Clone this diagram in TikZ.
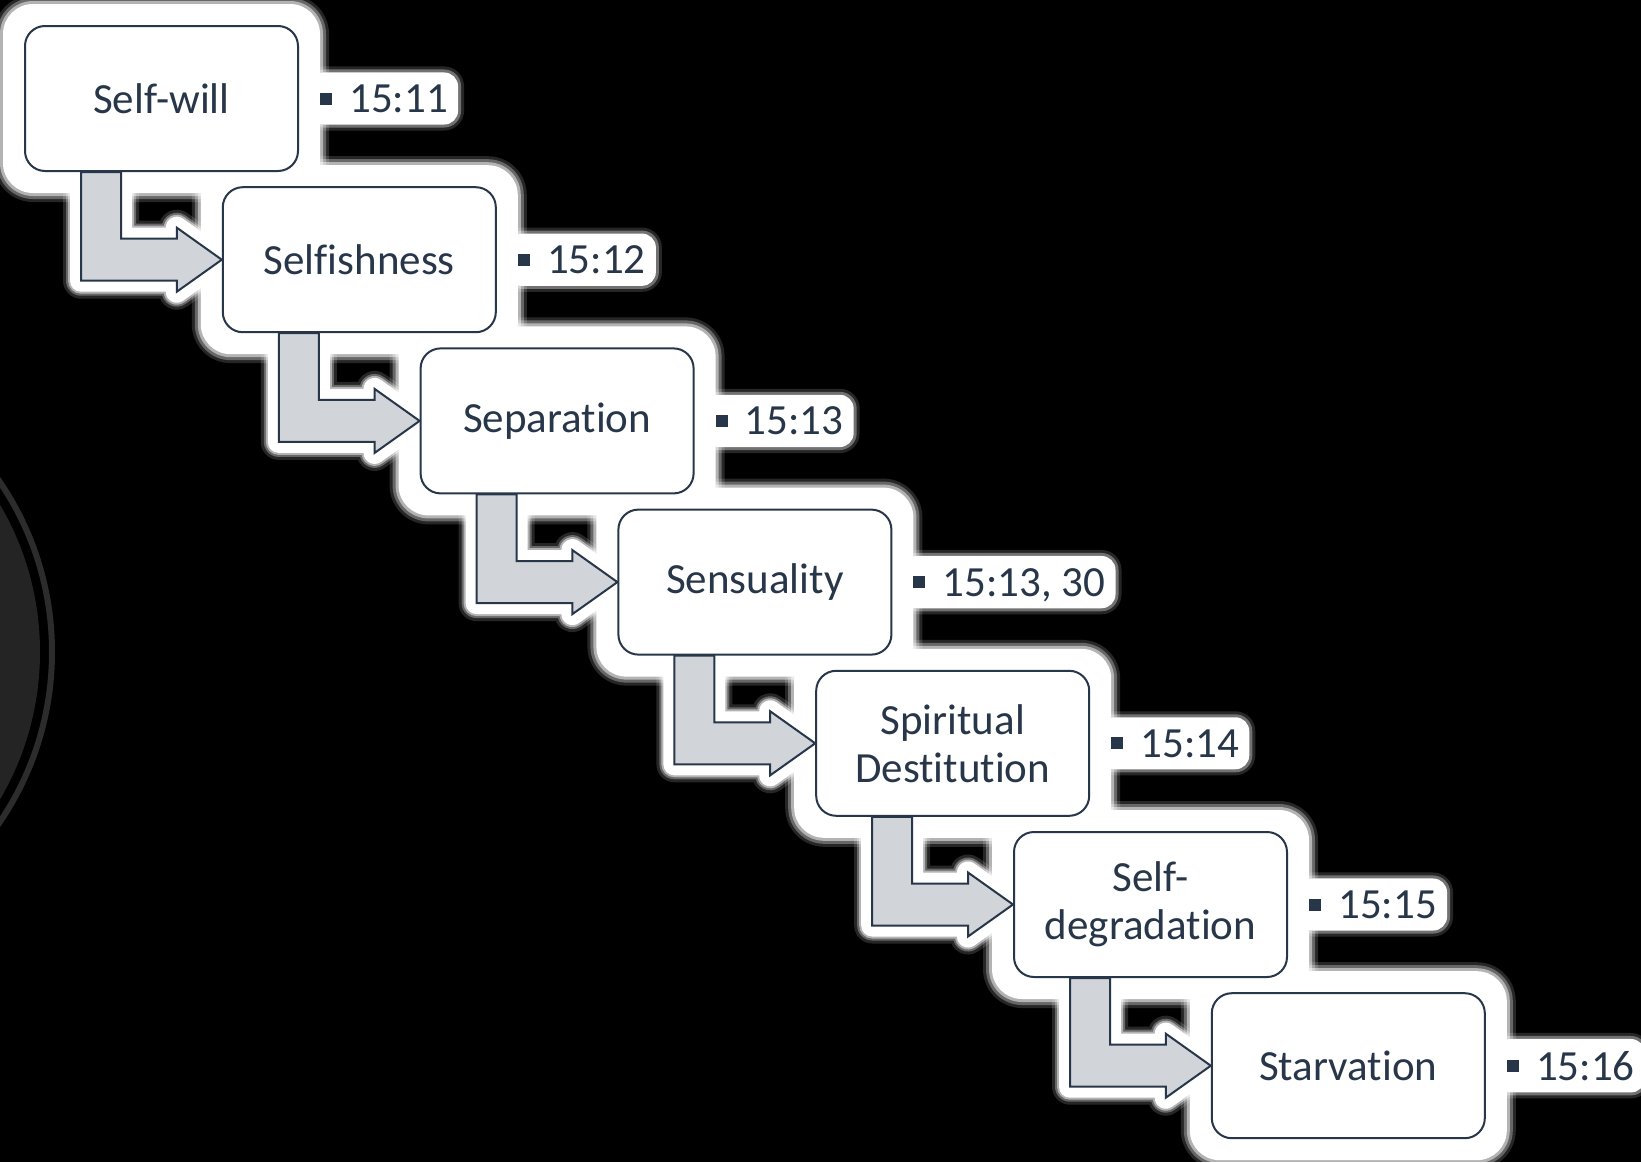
\documentclass[tikz,border=0pt]{standalone}
\usepackage{fontspec}
\setmainfont{Carlito}[Ligatures={NoCommon,NoContextual}]
\definecolor{ink}{HTML}{273649}
\definecolor{pale}{HTML}{D1D5DA}
\definecolor{disc}{HTML}{242424}
\definecolor{ring}{HTML}{2C2C2C}
\pgfdeclarelayer{glow}
\pgfdeclarelayer{arrows}
\pgfsetlayers{glow,arrows,main}
\tikzset{every picture/.style = {x=1pt, y=1pt}}
\tikzset{stage/.style = {draw=ink, fill=white, line width=2, rounded corners=20,
    minimum width=273, minimum height=145, inner sep=0, align=center,
    text=ink, font=\fontsize{43}{48}\selectfont}}
\tikzset{verse/.style = {anchor=west, text=ink, inner sep=2, text depth=0,
    font=\fontsize{43}{48}\selectfont}}
\tikzset{tick/.style = {fill=ink, minimum size=12, inner sep=0}}
\tikzset{bent/.style = {draw=ink, fill=pale, line width=2,
    preaction={draw=white, fill=white, opacity=.15, line width=36, line join=round},
    preaction={draw=white, fill=white, opacity=.3, line width=30, line join=round},
    preaction={draw=white, fill=white, opacity=.5, line width=26, line join=round},
    preaction={draw=white, fill=white, line width=22, line join=round}}}
\tikzset{halo/.style = {fill=white, rounded corners=#1}}

\begin{document}
\begin{tikzpicture}
  \useasboundingbox (0,0) rectangle (1641,-1162);
  \begin{pgfonlayer}{glow}
    \fill[black] (0,0) rectangle (1641,-1162);
    \begin{scope}
      \clip (0,0) rectangle (1641,-1162);
      \fill[disc] (-251,-652) circle (291);
      \draw[ring, line width=6] (-251,-652) circle (303);
    \end{scope}
  \end{pgfonlayer}

  % the seven stages, one step down and right each time
  \foreach \name/\words/\cite [count=\i from 0] in {
      will/Self-will/15:11,
      selfish/Selfishness/15:12,
      separ/Separation/15:13,
      sensual/Sensuality/{15:13, 30},
      destit/{Spiritual\\Destitution}/15:14,
      degrad/{Self-\\degradation}/15:15,
      starv/Starvation/15:16} {
    \node[stage] (\name) at (161.5+197.8*\i, -98.5-161.2*\i) {\words};
    \node[tick] (t\i) at ([xshift=27]\name.east) {};
    \node[verse] (v\i) at ([xshift=48]\name.east) {\cite};
    \begin{pgfonlayer}{glow}
      \foreach \r/\o in {30/.15, 27/.3, 24/.5, 21/1}
        \fill[halo=\r+9, opacity=\o] ([shift={(-\r,-\r)}]\name.south west)
          rectangle ([shift={(\r,\r)}]\name.north east);
      \foreach \r/\o in {16/.15, 13/.35, 10/1}
        \fill[halo=\r+4, opacity=\o] ([shift={(-\r,-\r)}]v\i.south -| t\i.west)
          rectangle ([shift={(\r-2,\r)}]v\i.north east);
    \end{pgfonlayer}
  }

  \begin{pgfonlayer}{arrows}
    \foreach \a/\b in {will/selfish, selfish/separ, separ/sensual,
        sensual/destit, destit/degrad, degrad/starv}
      \draw[bent] ([xshift=57]\a.south west) |- ([shift={(-45,-21)}]\b.west)
        -- ++(0,-11) -- (\b.west) -- ++(-45,32) -- ++(0,-11)
        -| ([xshift=97]\a.south west) -- cycle;
  \end{pgfonlayer}
\end{tikzpicture}
\end{document}
